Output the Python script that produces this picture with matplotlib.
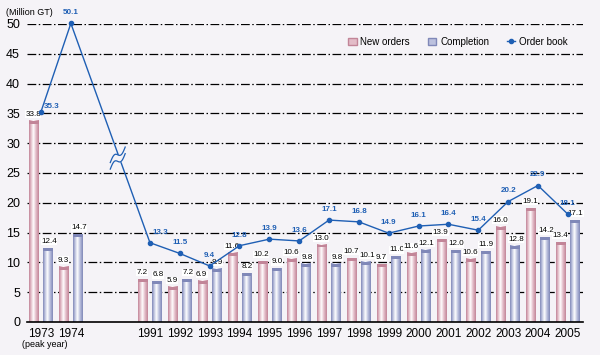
import numpy as np
import matplotlib
matplotlib.use("Agg")
import matplotlib.pyplot as plt
from matplotlib.colors import LinearSegmentedColormap
from matplotlib.lines import Line2D
from matplotlib.patches import Patch

plt.rcParams['font.family'] = ['Liberation Sans', 'DejaVu Sans']

# data
years = ["1973", "1974", "1991", "1992", "1993", "1994", "1995", "1996", "1997",
         "1998", "1999", "2000", "2001", "2002", "2003", "2004", "2005"]
new_orders = [33.8, 9.3, 7.2, 5.9, 6.9, 11.6, 10.2, 10.6, 13.0, 10.7, 9.7,
              11.6, 13.9, 10.6, 16.0, 19.1, 13.4]
completion = [12.4, 14.7, 6.8, 7.2, 8.9, 8.2, 9.0, 9.8, 9.8, 10.1, 11.0,
              12.1, 12.0, 11.9, 12.8, 14.2, 17.1]
order_book = [35.3, 50.1, 13.3, 11.5, 9.4, 12.8, 13.9, 13.6, 17.1, 16.8, 14.9,
              16.1, 16.4, 15.4, 20.2, 22.9, 18.1]

bg = "#f5f3f7"
pink = "#c28598"
pink_mid = "#e3bcc8"
blue = "#8088b8"
blue_mid = "#bcc1de"
line_c = "#1f5fb4"

# x positions: gap between 1974 and 1991
x = np.array([0, 1] + [3.65 + i for i in range(15)])
bw = 0.32
off = 0.235

fig = plt.figure(figsize=(6, 3.55), dpi=100, facecolor=bg)
ax = fig.add_axes([0.045, 0.093, 0.9267, 0.8394])
ax.set_facecolor(bg)
ax.set_xlim(-0.47, 18.16)
ax.set_ylim(0, 50)

for v in range(5, 51, 5):
    ax.axhline(v, color="black", lw=0.9, ls=(0, (7, 2, 1.2, 2)), zorder=1)


def grad_bar(xc, h, col, mid):
    cmap = LinearSegmentedColormap.from_list(
        "g", [(0, col), (0.2, mid), (0.45, "#ffffff"), (0.7, mid), (1, col)])
    grad = np.linspace(0, 1, 64).reshape(1, -1)
    ax.imshow(grad, cmap=cmap, aspect="auto", extent=(xc - bw / 2, xc + bw / 2, 0, h),
              zorder=2, interpolation="bilinear")
    ax.bar(xc, 0.5, bottom=h - 0.5, width=bw, color=col, zorder=3)


for xi, a, b in zip(x, new_orders, completion):
    grad_bar(xi - off, a, pink, pink_mid)
    grad_bar(xi + off, b, blue, blue_mid)
    ax.text(xi - off - 0.03, a + 0.5, f"{a:.1f}", ha="center", va="bottom", fontsize=5.8,
            zorder=5, bbox=dict(fc="white", ec="none", pad=0.2))
    ax.text(xi + off + 0.03, b + 0.5, f"{b:.1f}", ha="center", va="bottom", fontsize=5.8,
            zorder=5, bbox=dict(fc="white", ec="none", pad=0.2))

ax.plot(x, order_book, color=line_c, lw=1, marker="o", ms=3, zorder=6, clip_on=False)
for i, (xi, v) in enumerate(zip(x, order_book)):
    dx = 0.35 if i in (0, 2) else 0
    dy = 0.2 if i == 0 else 1.2
    ax.text(xi + dx, v + dy, f"{v:.1f}", ha="center", va="bottom", fontsize=5.8,
            color=line_c, fontweight="bold", zorder=7, clip_on=False)

# break mark on the line
t = np.linspace(-1, 1, 20)
bx = 2.57
by = 27.5
ax.fill_between([bx - 0.1, bx + 0.1], by - 0.5, by + 0.5, color=bg, zorder=6.5)
for s in (-0.55, 0.55):
    ax.plot(bx + 0.25 * t, by + s + 1.3 * t - 0.6 * np.sin(np.pi * t), color=line_c,
            lw=0.9, zorder=7)

ax.set_xticks(x)
ax.set_xticklabels(years, fontsize=8.5)
ax.set_yticks(range(0, 51, 5))
ax.tick_params(axis="y", labelsize=9, length=0, pad=5)
ax.tick_params(axis="x", length=0, pad=4)
for s in ("left", "right", "top"):
    ax.spines[s].set_visible(False)
ax.spines["bottom"].set_linewidth(1.2)

fig.text(0.01, 0.965, "(Million GT)", fontsize=6.5, va="center")
fig.text(0.037, 0.03, "(peak year)", fontsize=6.5, va="center")

handles = [Patch(fc=pink_mid, ec=pink), Patch(fc=blue_mid, ec=blue),
           Line2D([0], [0], color=line_c, lw=1, marker="o", ms=3)]
ax.legend(handles, ["New orders", "Completion", "Order book"], ncol=3, frameon=False,
          fontsize=7, loc="center", bbox_to_anchor=(0.775, 0.94), handlelength=0.9,
          columnspacing=1.8, handletextpad=0.4)

fig.savefig("out.png", dpi=100, facecolor=bg)
